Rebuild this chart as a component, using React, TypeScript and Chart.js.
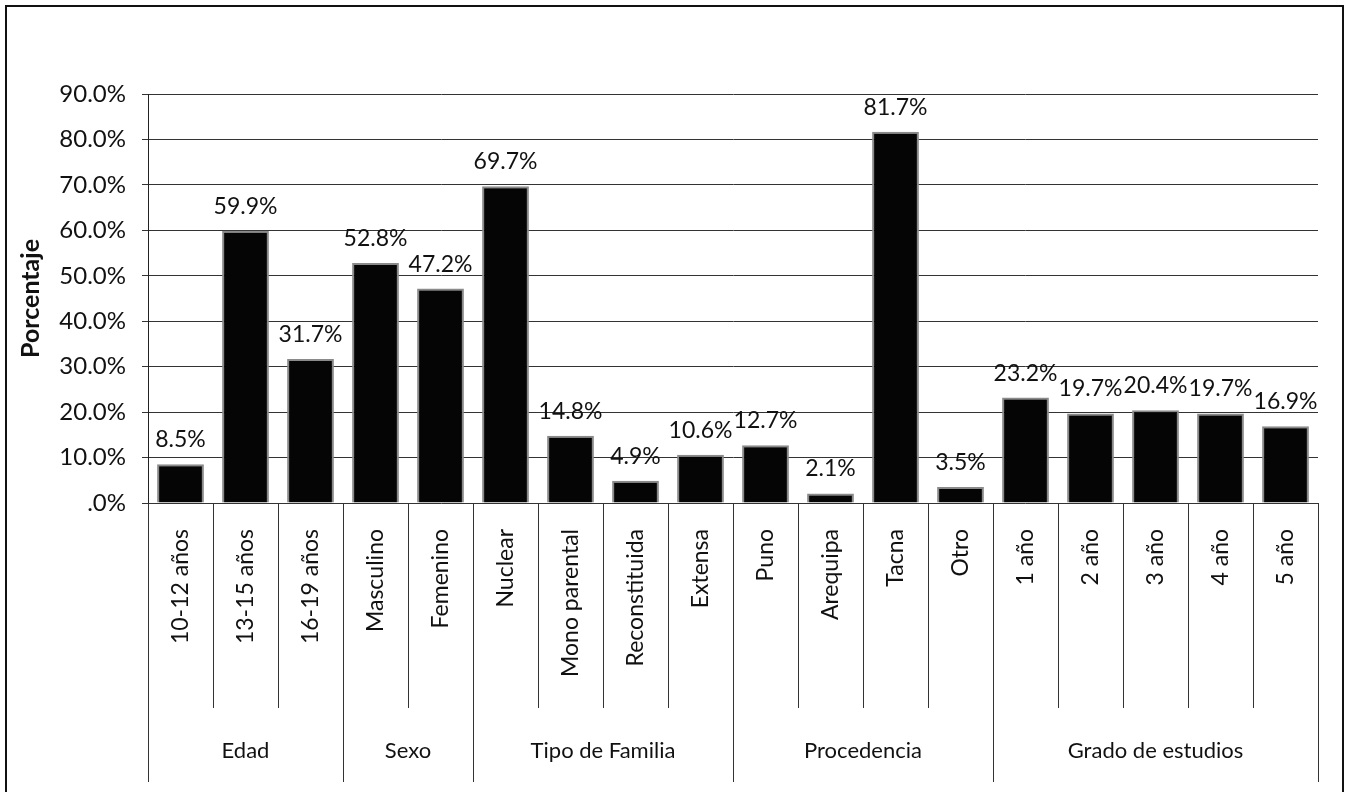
import React, { useEffect, useRef } from "react";
import { Chart, registerables } from "chart.js";

Chart.register(...registerables);

const categories = [
  "10-12 años", "13-15 años", "16-19 años",
  "Masculino", "Femenino",
  "Nuclear", "Mono parental", "Reconstituida", "Extensa",
  "Puno", "Arequipa", "Tacna", "Otro",
  "1 año", "2 año", "3 año", "4 año", "5 año",
];
const values = [8.5, 59.9, 31.7, 52.8, 47.2, 69.7, 14.8, 4.9, 10.6, 12.7, 2.1, 81.7, 3.5, 23.2, 19.7, 20.4, 19.7, 16.9];
const groupNames = ["Edad", "Sexo", "Tipo de Familia", "Procedencia", "Grado de estudios"];
const groupSizes = [3, 2, 4, 4, 5];
const yTicks = [0, 10, 20, 30, 40, 50, 60, 70, 80, 90];

const FONT = "Lato, 'Noto Sans', sans-serif";

const fmt = (v: number) => (v === 0 ? ".0%" : v.toFixed(1) + "%");

const extrasPlugin = {
  id: "extras",
  afterDraw(chart: any) {
    const ctx = chart.ctx;
    const x = chart.scales.x;
    const area = chart.chartArea;
    const n = categories.length;
    const half = (x.getPixelForValue(1) - x.getPixelForValue(0)) / 2;
    ctx.save();
    // outer frame
    ctx.strokeStyle = "#111";
    ctx.lineWidth = 2;
    ctx.beginPath();
    ctx.moveTo(6, 800);
    ctx.lineTo(6, 6);
    ctx.lineTo(1343, 6);
    ctx.lineTo(1343, 800);
    ctx.stroke();

    // separators
    const groupEnds = new Set<number>();
    let acc = 0;
    groupSizes.forEach((s) => {
      acc += s;
      groupEnds.add(acc);
    });
    ctx.strokeStyle = "#333";
    ctx.lineWidth = 1;
    for (let i = 0; i <= n; i++) {
      const px = Math.round(x.getPixelForValue(i) - half) + 0.5;
      const isGroup = i === 0 || groupEnds.has(i);
      ctx.beginPath();
      ctx.moveTo(px, area.bottom);
      ctx.lineTo(px, isGroup ? 782 : 708);
      ctx.stroke();
    }

    // group labels
    ctx.fillStyle = "#111";
    ctx.font = `22px ${FONT}`;
    ctx.textAlign = "center";
    ctx.textBaseline = "middle";
    let start = 0;
    groupSizes.forEach((s, gi) => {
      const l = x.getPixelForValue(start) - half;
      const r = x.getPixelForValue(start + s - 1) + half;
      ctx.fillText(groupNames[gi], (l + r) / 2, 751);
      start += s;
    });

    // data labels
    const meta = chart.getDatasetMeta(0);
    ctx.font = `23px ${FONT}`;
    ctx.textBaseline = "alphabetic";
    meta.data.forEach((bar: any, i: number) => {
      ctx.fillText(values[i].toFixed(1) + "%", bar.x, bar.y - 17);
    });
    ctx.restore();
  },
};

export default function App() {
  const ref = useRef<HTMLCanvasElement>(null);
  useEffect(() => {
    const chart = new Chart(ref.current!, {
      type: "bar",
      data: {
        labels: categories,
        datasets: [
          {
            data: values,
            backgroundColor: "#050505",
            borderColor: "#8a8a8a",
            borderWidth: 2,
            barPercentage: 0.72,
            categoryPercentage: 1,
          },
        ],
      },
      options: {
        responsive: false,
        animation: false,
        maintainAspectRatio: false,
        layout: { padding: { top: 94, right: 31, left: 0, bottom: 0 } },
        plugins: { legend: { display: false }, tooltip: { enabled: false } },
        scales: {
          x: {
            grid: { display: false, drawTicks: false },
            border: { display: false },
            ticks: {
              autoSkip: false,
              minRotation: 90,
              maxRotation: 90,
              padding: 26,
              color: "#111",
              font: { family: FONT, size: 23 },
            },
            afterFit: (s: any) => {
              s.height = 289;
            },
          },
          y: {
            min: 0,
            max: 90,
            afterBuildTicks: (s: any) => {
              s.ticks = yTicks.map((v) => ({ value: v }));
            },
            grid: { color: "#333", lineWidth: 1, tickLength: 6 },
            border: { display: true, color: "#222", width: 1 },
            ticks: {
              padding: 16,
              color: "#111",
              font: { family: FONT, size: 24 },
              callback: (v: any) => fmt(Number(v)),
            },
            title: {
              display: true,
              text: "Porcentaje",
              color: "#111",
              font: { family: FONT, size: 25, weight: "bold" },
              padding: { top: 16, bottom: 0 },
            },
            afterFit: (s: any) => {
              s.width = 148;
            },
          },
        },
      },
      plugins: [extrasPlugin],
    });
    return () => chart.destroy();
  }, []);
  return (
    <div style={{ position: "fixed", left: 0, top: 0, width: 1349, height: 792, background: "#fff" }}>
      <canvas ref={ref} width={1349} height={792} style={{ display: "block" }} />
    </div>
  );
}
